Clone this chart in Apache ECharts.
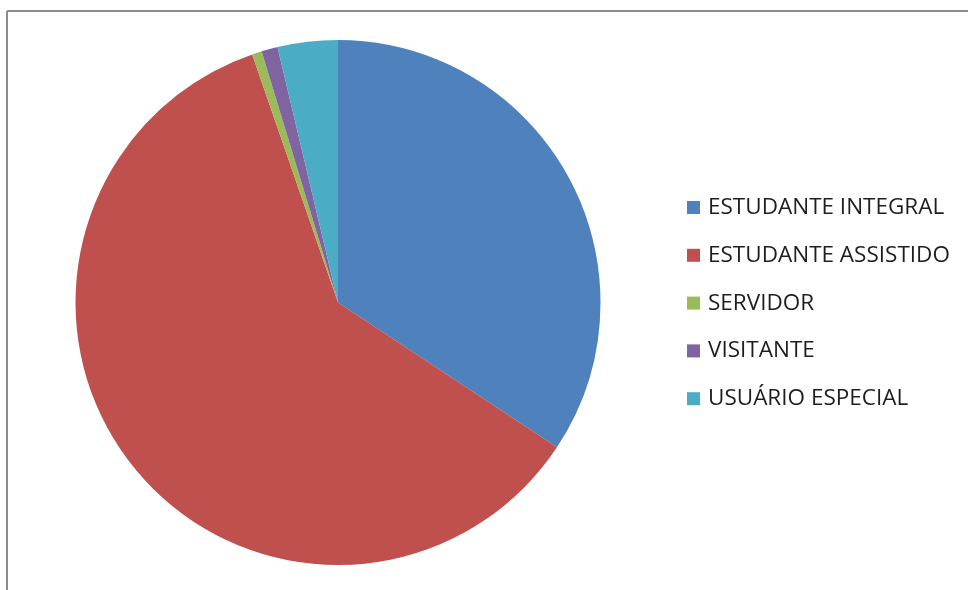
<!DOCTYPE html>
<html><head><meta charset="utf-8">
<script src="https://cdn.jsdelivr.net/npm/echarts@6/dist/echarts.min.js"></script>
<style>html,body{margin:0;padding:0;background:#fff}#c{width:968px;height:590px}</style>
</head><body><div id="c"></div>
<script>
const categories = ['ESTUDANTE INTEGRAL','ESTUDANTE ASSISTIDO','SERVIDOR','VISITANTE','USUÁRIO ESPECIAL'];
const values = [34.3, 60.4, 0.6, 1.0, 3.7];
const colors = ['#4F81BD','#C0504D','#9BBB59','#8064A2','#4BACC6'];

const chart = echarts.init(document.getElementById('c'), null, {renderer:'canvas'});
chart.setOption({
  backgroundColor:'#fff',
  animation:false,
  color: colors,
  graphic:[
    {type:'line', shape:{x1:7,y1:11,x2:968,y2:11}, style:{stroke:'#8c8c8c', lineWidth:2}},
    {type:'line', shape:{x1:7,y1:11,x2:7,y2:590}, style:{stroke:'#8c8c8c', lineWidth:2}}
  ],
  legend:{
    orient:'vertical', left:682, top:191,
    itemWidth:13, itemHeight:13, itemGap:24.8,
    icon:'rect',
    textStyle:{fontFamily:'Open Sans', fontSize:22.5, color:'#1e1e1e', padding:[0,0,0,3]},
    data: categories
  },
  series:[{
    type:'pie',
    center:[338,302.5],
    radius:[0,262.5],
    startAngle:90,
    clockwise:true,
    label:{show:false},
    labelLine:{show:false},
    itemStyle:{borderWidth:0},
    emphasis:{disabled:true},
    data: categories.map((n,i)=>({name:n, value:values[i]}))
  }]
});
</script></body></html>
